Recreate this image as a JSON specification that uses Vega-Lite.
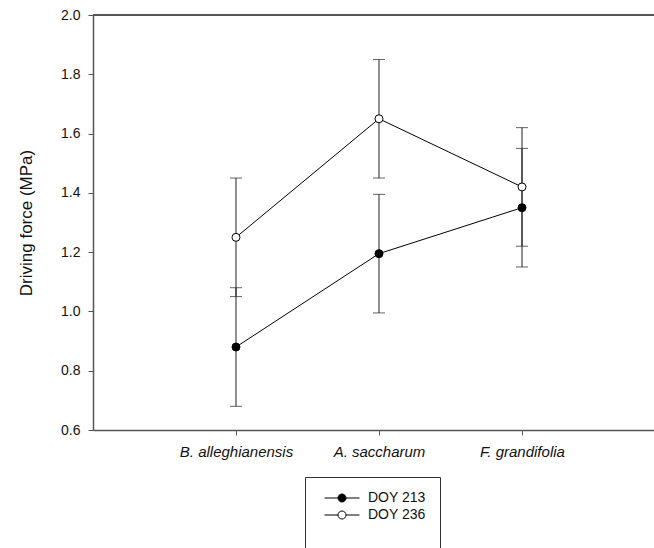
{
  "$schema": "https://vega.github.io/schema/vega-lite/v6.json",
  "width": 561,
  "height": 415,
  "autosize": {"type": "none"},
  "padding": {"left": 93, "top": 15, "right": 0, "bottom": 118},
  "config": {
    "font": "Liberation Sans",
    "view": {"stroke": null},
    "axis": {
      "grid": false,
      "domainColor": "#555",
      "domainWidth": 1.5,
      "tickColor": "#555",
      "tickWidth": 1,
      "tickSize": 5,
      "labelColor": "#111",
      "titleColor": "#111",
      "labelFont": "Liberation Sans",
      "titleFont": "Liberation Sans",
      "titleFontWeight": "normal"
    },
    "axisY": {"labelFontSize": 14, "labelPadding": 8, "titleFontSize": 17, "titlePadding": 25},
    "axisX": {"labelFontSize": 15, "labelFontStyle": "italic", "labelAngle": 0, "labelPadding": 9},
    "legend": {
      "orient": "none",
      "legendX": 212,
      "legendY": 462,
      "padding": 14,
      "strokeColor": "#333",
      "fillColor": "white",
      "labelFont": "Liberation Sans",
      "labelFontSize": 14,
      "labelColor": "#111",
      "rowPadding": 3,
      "symbolType": "M-4.375,0H-1M1,0H4.375M-1,0A1,1 0 1 0 1,0A1,1 0 1 0 -1,0Z",
      "symbolSize": 64,
      "symbolStrokeColor": "black",
      "symbolStrokeWidth": 1,
      "symbolOffset": 16,
      "labelOffset": 19,
      "titleOrient": "bottom",
      "titleFontSize": 14,
      "titlePadding": 14
    }
  },
  "data": {
    "values": [
      {"species": "B. alleghianensis", "doy": "DOY 213", "mean": 0.88, "lo": 0.68, "hi": 1.08},
      {"species": "B. alleghianensis", "doy": "DOY 236", "mean": 1.25, "lo": 1.05, "hi": 1.45},
      {"species": "A. saccharum", "doy": "DOY 213", "mean": 1.195, "lo": 0.995, "hi": 1.395},
      {"species": "A. saccharum", "doy": "DOY 236", "mean": 1.65, "lo": 1.45, "hi": 1.85},
      {"species": "F. grandifolia", "doy": "DOY 213", "mean": 1.35, "lo": 1.15, "hi": 1.55},
      {"species": "F. grandifolia", "doy": "DOY 236", "mean": 1.42, "lo": 1.22, "hi": 1.62}
    ]
  },
  "layer": [
    {
      "mark": {"type": "rule", "color": "#222", "strokeWidth": 1},
      "encoding": {
        "x": {"field": "species", "type": "nominal", "sort": ["B. alleghianensis", "A. saccharum", "F. grandifolia"], "scale": {"type": "point", "padding": 0.9615, "align": 0.52}, "title": null},
        "y": {"field": "lo", "type": "quantitative", "scale": {"domain": [0.6, 2.0], "nice": false, "zero": false}, "axis": {"values": [0.6, 0.8, 1.0, 1.2, 1.4, 1.6, 1.8, 2.0], "format": ".1f"}, "title": "Driving force (MPa)"},
        "y2": {"field": "hi"},
        "detail": {"field": "doy"}
      }
    },
    {
      "mark": {"type": "tick", "color": "#222", "size": 12, "thickness": 1},
      "encoding": {
        "x": {"field": "species", "type": "nominal", "sort": ["B. alleghianensis", "A. saccharum", "F. grandifolia"], "scale": {"type": "point", "padding": 0.9615, "align": 0.52}, "title": null},
        "y": {"field": "lo", "type": "quantitative", "axis": {"values": [0.6, 0.8, 1.0, 1.2, 1.4, 1.6, 1.8, 2.0], "format": ".1f"}, "title": "Driving force (MPa)"},
        "detail": {"field": "doy"}
      }
    },
    {
      "mark": {"type": "tick", "color": "#222", "size": 12, "thickness": 1},
      "encoding": {
        "x": {"field": "species", "type": "nominal", "sort": ["B. alleghianensis", "A. saccharum", "F. grandifolia"], "scale": {"type": "point", "padding": 0.9615, "align": 0.52}, "title": null},
        "y": {"field": "hi", "type": "quantitative", "axis": {"values": [0.6, 0.8, 1.0, 1.2, 1.4, 1.6, 1.8, 2.0], "format": ".1f"}, "title": "Driving force (MPa)"},
        "detail": {"field": "doy"}
      }
    },
    {
      "mark": {"type": "line", "color": "black", "strokeWidth": 1},
      "encoding": {
        "x": {"field": "species", "type": "nominal", "sort": ["B. alleghianensis", "A. saccharum", "F. grandifolia"], "scale": {"type": "point", "padding": 0.9615, "align": 0.52}, "title": null},
        "y": {"field": "mean", "type": "quantitative", "axis": {"values": [0.6, 0.8, 1.0, 1.2, 1.4, 1.6, 1.8, 2.0], "format": ".1f"}, "title": "Driving force (MPa)"},
        "detail": {"field": "doy"}
      }
    },
    {
      "mark": {"type": "point", "filled": true, "stroke": "black", "strokeWidth": 1, "opacity": 1, "size": 64, "shape": "circle"},
      "encoding": {
        "x": {"field": "species", "type": "nominal", "sort": ["B. alleghianensis", "A. saccharum", "F. grandifolia"], "scale": {"type": "point", "padding": 0.9615, "align": 0.52}, "title": null},
        "y": {"field": "mean", "type": "quantitative", "axis": {"values": [0.6, 0.8, 1.0, 1.2, 1.4, 1.6, 1.8, 2.0], "format": ".1f"}, "title": "Driving force (MPa)"},
        "fill": {"field": "doy", "type": "nominal", "scale": {"domain": ["DOY 213", "DOY 236"], "range": ["black", "white"]}, "legend": {"title": " "}}
      }
    },
    {
      "mark": {"type": "rule", "color": "#555", "strokeWidth": 1.5},
      "encoding": {
        "y": {"datum": 2.0}
      }
    }
  ]
}
